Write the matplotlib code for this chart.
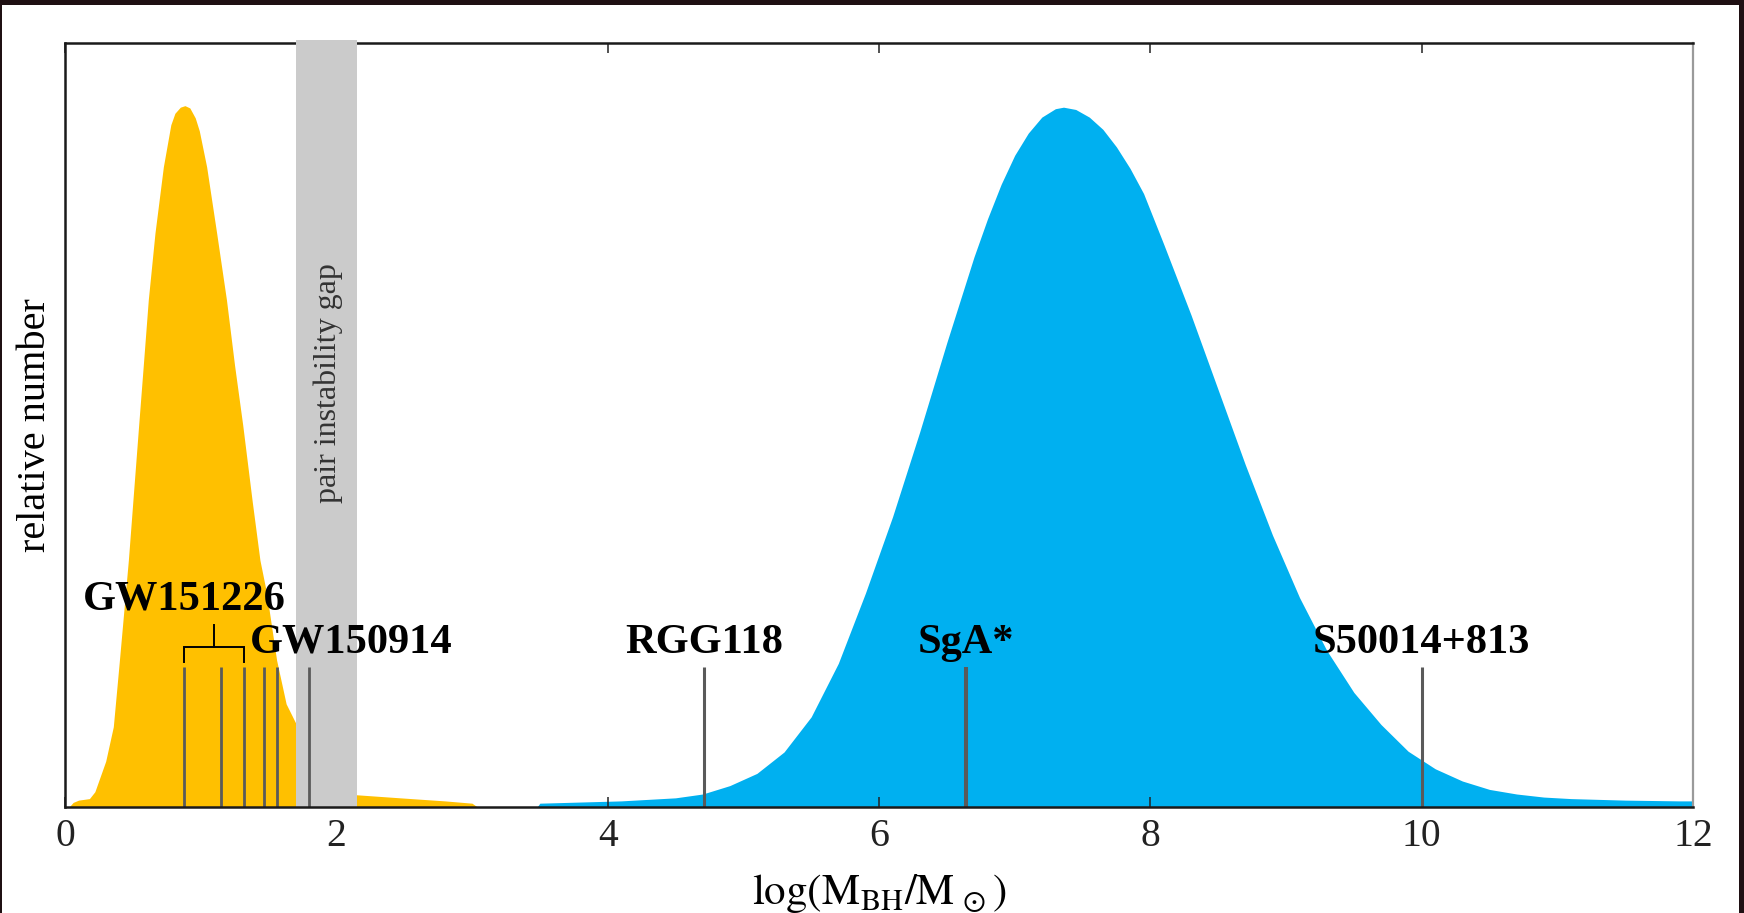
import matplotlib
matplotlib.use("Agg")
import matplotlib.pyplot as plt
from matplotlib.patches import Rectangle

plt.rcParams["font.family"] = ["Liberation Serif", "DejaVu Serif"]
plt.rcParams["mathtext.fontset"] = "stix"

# stellar-mass black hole distribution (log mass, relative number)
stellar_x = [0.03, 0.06, 0.10, 0.18, 0.22, 0.26, 0.30, 0.356, 0.40, 0.467,
             0.50, 0.543, 0.577, 0.614, 0.663, 0.725, 0.78, 0.81, 0.85, 0.884,
             0.92, 0.96, 0.99, 1.044, 1.118, 1.19, 1.25, 1.31, 1.38, 1.437,
             1.486, 1.56, 1.63, 1.70, 1.80, 1.90, 2.10, 2.15, 2.47, 2.80, 3.00,
             3.04]
stellar_n = [0.0, 0.006, 0.009, 0.011, 0.020, 0.040, 0.060, 0.105, 0.190, 0.323,
             0.400, 0.500, 0.578, 0.664, 0.751, 0.838, 0.893, 0.908, 0.916, 0.918,
             0.915, 0.902, 0.885, 0.838, 0.751, 0.664, 0.578, 0.500, 0.400, 0.323,
             0.280, 0.192, 0.135, 0.110, 0.080, 0.055, 0.018, 0.016, 0.012, 0.008,
             0.005, 0.0]

# supermassive black hole distribution
smbh_x = [3.48, 3.5, 3.7, 3.9, 4.1, 4.3, 4.5, 4.7, 4.9, 5.1, 5.3, 5.5, 5.7, 5.9,
          6.1, 6.3, 6.5, 6.7, 6.8, 6.9, 7.0, 7.1, 7.2, 7.3, 7.36, 7.45, 7.55,
          7.65, 7.75, 7.85, 7.95, 8.1, 8.3, 8.5, 8.7, 8.9, 9.1, 9.3, 9.5, 9.7,
          9.9, 10.1, 10.3, 10.5, 10.7, 10.9, 11.1, 11.3, 11.5, 11.7, 11.9, 12.0]
smbh_n = [0.0, 0.005, 0.006, 0.007, 0.008, 0.010, 0.012, 0.017, 0.028, 0.044,
          0.072, 0.118, 0.188, 0.280, 0.380, 0.491, 0.608, 0.720, 0.770, 0.815,
          0.853, 0.882, 0.903, 0.914, 0.916, 0.913, 0.903, 0.887, 0.864, 0.836,
          0.803, 0.736, 0.644, 0.546, 0.448, 0.356, 0.274, 0.205, 0.150, 0.108,
          0.073, 0.050, 0.034, 0.023, 0.017, 0.013, 0.011, 0.010, 0.009, 0.0085,
          0.008, 0.008]

gap_range = (1.70, 2.15)

gw_masses = [0.88, 1.15, 1.32, 1.47, 1.56, 1.80]
named_objects = ["RGG118", "SgA*", "S50014+813"]
named_masses = [4.71, 6.64, 10.0]
named_widths = [2.2, 2.9, 2.2]

x_ticks = [0, 2, 4, 6, 8, 10, 12]
x_tick_labels = ["0", "2", "4", "6", "8", "10", "12"]

YELLOW = "#FFC000"
BLUE = "#00B0F0"
MARK = "#5a5a5a"

fig = plt.figure(figsize=(17.44, 9.13), dpi=100, facecolor="white")
ax = fig.add_axes([0.03727, 0.11610, 0.93349, 0.83680])

ax.fill_between(stellar_x, 0, stellar_n, color=YELLOW, linewidth=0, zorder=1)
ax.fill_between(smbh_x, 0, smbh_n, color=BLUE, linewidth=0, zorder=1)
ax.axvspan(gap_range[0], gap_range[1], ymin=0, ymax=1.004, color="#cbcbcb",
           linewidth=0, zorder=3, clip_on=False)

line_top = 0.183
for m in gw_masses:
    ax.plot([m, m], [0, line_top], color=MARK, lw=2.0, zorder=4,
            solid_capstyle="butt")
for m, w in zip(named_masses, named_widths):
    ax.plot([m, m], [0, line_top], color=MARK, lw=w, zorder=4,
            solid_capstyle="butt")

# bracket grouping the GW151226 components
b0, b1 = gw_masses[0], gw_masses[2]
bc = 0.5 * (b0 + b1)
ax.plot([b0, b0, b1, b1], [0.190, 0.209, 0.209, 0.190], color="black", lw=1.4,
        zorder=5, solid_joinstyle="miter")
ax.plot([bc, bc], [0.209, 0.238], color="black", lw=1.4, zorder=5)

bold = dict(fontsize=30.5, fontweight="bold", color="black", zorder=6,
            va="center", ha="center")
ax.text(0.877, 0.272, "GW151226", **bold)
ax.text(2.108, 0.215, "GW150914", **bold)
for name, m in zip(named_objects, named_masses):
    ax.text(m, 0.215, name, **bold)

ax.text(1.94, 0.555, "pair instability gap", rotation=90, fontsize=23,
        color="#333333", ha="center", va="center", zorder=6)

ax.set_xlim(0, 12)
ax.set_ylim(0, 1)
ax.set_xticks(x_ticks)
ax.set_xticklabels(x_tick_labels)
ax.set_yticks([])
ax.tick_params(axis="x", direction="in", length=7, width=1.1, top=True,
               labelsize=28.5, pad=8, colors="#222222")

for side in ["left", "bottom", "top"]:
    ax.spines[side].set_linewidth(1.8)
    ax.spines[side].set_color("#1a1a1a")
ax.spines["right"].set_linewidth(1.6)
ax.spines["right"].set_color("#9a9a9a")
ax.spines["bottom"].set_zorder(5)

ax.set_xlabel(r"$\mathrm{log(M_{BH}/M_{\,\odot})}$", fontsize=31, labelpad=12)
ax.set_ylabel("relative number", fontsize=29, labelpad=8)

# dark frame around the figure
frame = "#1f1013"
for x0, y0, w, h in [(0, 1 - 5 / 913, 1, 5 / 913), (0, 0, 2 / 1744, 1),
                     (1 - 5 / 1744, 0, 5 / 1744, 1)]:
    fig.patches.append(Rectangle((x0, y0), w, h, transform=fig.transFigure,
                                 facecolor=frame, edgecolor="none", zorder=10))

fig.savefig("out.png", dpi=100, facecolor="white")
